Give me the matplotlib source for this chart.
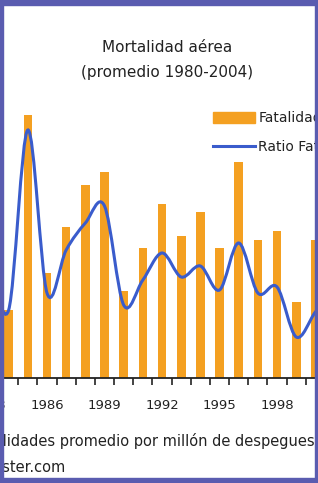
import numpy as np
import matplotlib
matplotlib.use("Agg")
import matplotlib.pyplot as plt
from matplotlib.path import Path
from matplotlib.patches import PathPatch, Rectangle, Patch
from matplotlib.lines import Line2D

# datos
years = np.arange(1984, 2001)
fatalidades = [520, 2000, 800, 1150, 1470, 1570, 660, 990, 1320,
               1080, 1260, 990, 1640, 1050, 1120, 580, 1050]
ratio_years = np.arange(1983, 2002)
ratio = [1.20, 0.68, 2.48, 0.85, 1.28, 1.55, 1.72, 0.73, 0.98, 1.25,
         1.01, 1.12, 0.88, 1.35, 0.85, 0.91, 0.41, 0.66, 0.90]
label_years = [1983, 1986, 1989, 1992, 1995, 1998, 2001]

orange = "#f4a021"
blue = "#3a5ccc"
border = "#5a5cb0"
txt = "#222222"

W, H = 318, 483
fig = plt.figure(figsize=(W / 100, H / 100), dpi=100)

px_year = 19.17
left_px = 47 + (1979.5 - 1986) * px_year
ax = fig.add_axes([left_px / W, 105 / H, 25 * px_year / W, 278 / H])
ax.bar(years, fatalidades, width=0.45, color=orange, zorder=2)
ax.set_xlim(1979.5, 2004.5)
ax.set_ylim(0, 2114)
for s in ["top", "left", "right"]:
    ax.spines[s].set_visible(False)
ax.spines["bottom"].set_color(txt)
ax.spines["bottom"].set_linewidth(1.3)
ax.set_yticks([])
ax.set_xticks(label_years)
ax.set_xticklabels([str(y) for y in label_years])
ax.set_xticks(np.arange(1979.5, 2005, 1.0), minor=True)
ax.tick_params(axis="x", which="major", length=0, pad=15, labelsize=9.5, labelcolor=txt)
ax.tick_params(axis="x", which="minor", length=5, width=1.2, color=txt, direction="out")

# linea suavizada del ratio
ax2 = ax.twinx()
ax2.set_ylim(0, 2.78)
ax2.set_yticks([])
for s in ax2.spines.values():
    s.set_visible(False)
pts = np.column_stack([ratio_years, ratio]).astype(float)
n = len(pts)
verts = [pts[0]]
codes = [Path.MOVETO]
for i in range(n - 1):
    p0 = pts[max(i - 1, 0)]
    p1 = pts[i]
    p2 = pts[i + 1]
    p3 = pts[min(i + 2, n - 1)]
    verts += [p1 + (p2 - p0) / 6, p2 - (p3 - p1) / 6, p2]
    codes += [Path.CURVE4] * 3
ax2.add_patch(PathPatch(Path(verts, codes), fill=False, ec=blue, lw=2.2, zorder=3))

# leyenda
handles = [Patch(color=orange), Line2D([], [], color=blue, lw=2.2)]
fig.legend(handles, ["Fatalidades", "Ratio Fatalidades"], loc="upper left",
           bbox_to_anchor=(213 / W, 1 - 111 / H), frameon=False, fontsize=10,
           handlelength=3.0, handleheight=0.85, handletextpad=0.25,
           labelspacing=1.1, borderpad=0, borderaxespad=0, labelcolor=txt)

# titulos
fig.text(167 / W, 1 - 47 / H, "Mortalidad aérea", ha="center", va="center",
         fontsize=11, color=txt)
fig.text(167 / W, 1 - 73 / H, "(promedio 1980-2004)", ha="center", va="center",
         fontsize=11, color=txt)

# notas al pie
renderer = fig.canvas.get_renderer()
tmp = fig.text(0, 0, "Fata", fontsize=10.5)
w_pre = tmp.get_window_extent(renderer).width
tmp.remove()
fig.text((3 - w_pre) / W, 1 - 441 / H, "Fatalidades promedio por millón de despegues",
         ha="left", va="center", fontsize=10.5, color=txt)
fig.text(65 / W, 1 - 467 / H, "Fuente: www.airdisaster.com", ha="right", va="center",
         fontsize=10.5, color=txt)

# marco
for (x, y, w, h) in [(0, 0, 3, H), (W - 3, 0, 3, H), (0, H - 5, W, 5), (0, 0, W, 5)]:
    fig.patches.append(Rectangle((x / W, y / H), w / W, h / H, transform=fig.transFigure,
                                 color=border, zorder=10))

fig.savefig("out.png", dpi=100)
